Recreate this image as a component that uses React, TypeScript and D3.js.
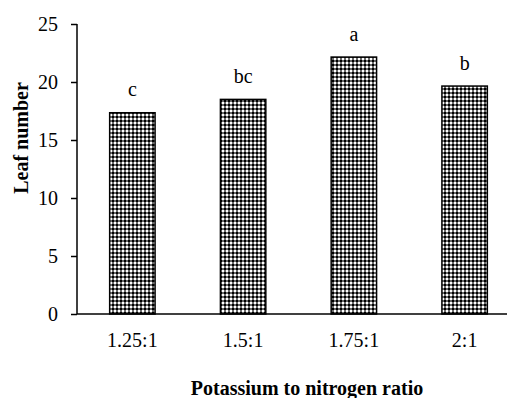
import * as d3 from "d3";
import { useEffect, useRef } from "react";

const categories = ["1.25:1", "1.5:1", "1.75:1", "2:1"];
const leafNumber = [17.35, 18.5, 22.15, 19.65];
const letters = ["c", "bc", "a", "b"];
const yTicks = [0, 5, 10, 15, 20, 25];

const W = 507;
const H = 398;
const FONT = "'Liberation Serif', 'Times New Roman', serif";

const App = () => {
  const ref = useRef<SVGSVGElement | null>(null);

  useEffect(() => {
    if (!ref.current) return;
    const svg = d3.select(ref.current);
    svg.selectAll("*").remove();

    // checkerboard fill like the excel pattern
    const defs = svg.append("defs");
    const pat = defs
      .append("pattern")
      .attr("id", "checker")
      .attr("patternUnits", "userSpaceOnUse")
      .attr("width", 4)
      .attr("height", 4);
    pat.append("rect").attr("width", 4).attr("height", 4).attr("fill", "#6a6a6a");
    pat.append("rect").attr("width", 2).attr("height", 2).attr("fill", "#000");
    pat.append("rect").attr("x", 2).attr("y", 2).attr("width", 2).attr("height", 2).attr("fill", "#fff");

    const x = d3
      .scaleBand()
      .domain(categories)
      .range([77, 520])
      .paddingInner(0.59)
      .paddingOuter(0.295);
    const y = d3.scaleLinear().domain([0, 25]).range([314, 24]);

    // bars
    svg
      .append("g")
      .selectAll("rect")
      .data(leafNumber)
      .enter()
      .append("rect")
      .attr("x", (_, i) => x(categories[i]) as number)
      .attr("y", (d) => y(d))
      .attr("width", x.bandwidth())
      .attr("height", (d) => y(0) - y(d))
      .attr("fill", "url(#checker)")
      .attr("stroke", "#000")
      .attr("stroke-width", 1.5);

    // significance letters
    svg
      .append("g")
      .selectAll("text")
      .data(leafNumber)
      .enter()
      .append("text")
      .attr("x", (_, i) => (x(categories[i]) as number) + x.bandwidth() / 2)
      .attr("y", (d) => y(d) - 16.5)
      .attr("text-anchor", "middle")
      .attr("font-family", FONT)
      .attr("font-size", 20)
      .text((_, i) => letters[i]);

    // y axis
    const yAxis = svg
      .append("g")
      .attr("transform", "translate(77,0)")
      .call(d3.axisLeft(y).tickValues(yTicks).tickSize(6).tickPadding(13));
    yAxis.select(".domain").attr("stroke", "#000").attr("stroke-width", 1.5).attr("d", `M0,${y(25)}V${y(0)}`);
    yAxis.selectAll(".tick line").attr("stroke", "#000").attr("stroke-width", 1.5);
    yAxis
      .selectAll(".tick text")
      .attr("font-family", FONT)
      .attr("font-size", 20)
      .attr("fill", "#000")
      .attr("dy", "0.33em");

    // x axis
    const xAxis = svg
      .append("g")
      .attr("transform", `translate(0,${y(0)})`)
      .call(d3.axisBottom(x).tickSize(0).tickPadding(33));
    xAxis.select(".domain").attr("stroke", "#000").attr("stroke-width", 1.5).attr("d", `M77,0H${W}`);
    xAxis
      .selectAll(".tick text")
      .attr("font-family", FONT)
      .attr("font-size", 20)
      .attr("fill", "#000")
      .attr("dy", "0");

    // titles
    svg
      .append("text")
      .attr("transform", `translate(28,${(y(0) + y(25)) / 2 - 31}) rotate(-90)`)
      .attr("text-anchor", "middle")
      .attr("font-family", FONT)
      .attr("font-weight", "bold")
      .attr("font-size", 20)
      .text("Leaf number");

    svg
      .append("text")
      .attr("x", 307)
      .attr("y", 395)
      .attr("text-anchor", "middle")
      .attr("font-family", FONT)
      .attr("font-weight", "bold")
      .attr("font-size", 20)
      .text("Potassium to nitrogen ratio");
  }, []);

  return (
    <svg
      ref={ref}
      width={W}
      height={H}
      style={{ position: "absolute", left: 0, top: 0, background: "#fff" }}
    />
  );
};

export default App;
